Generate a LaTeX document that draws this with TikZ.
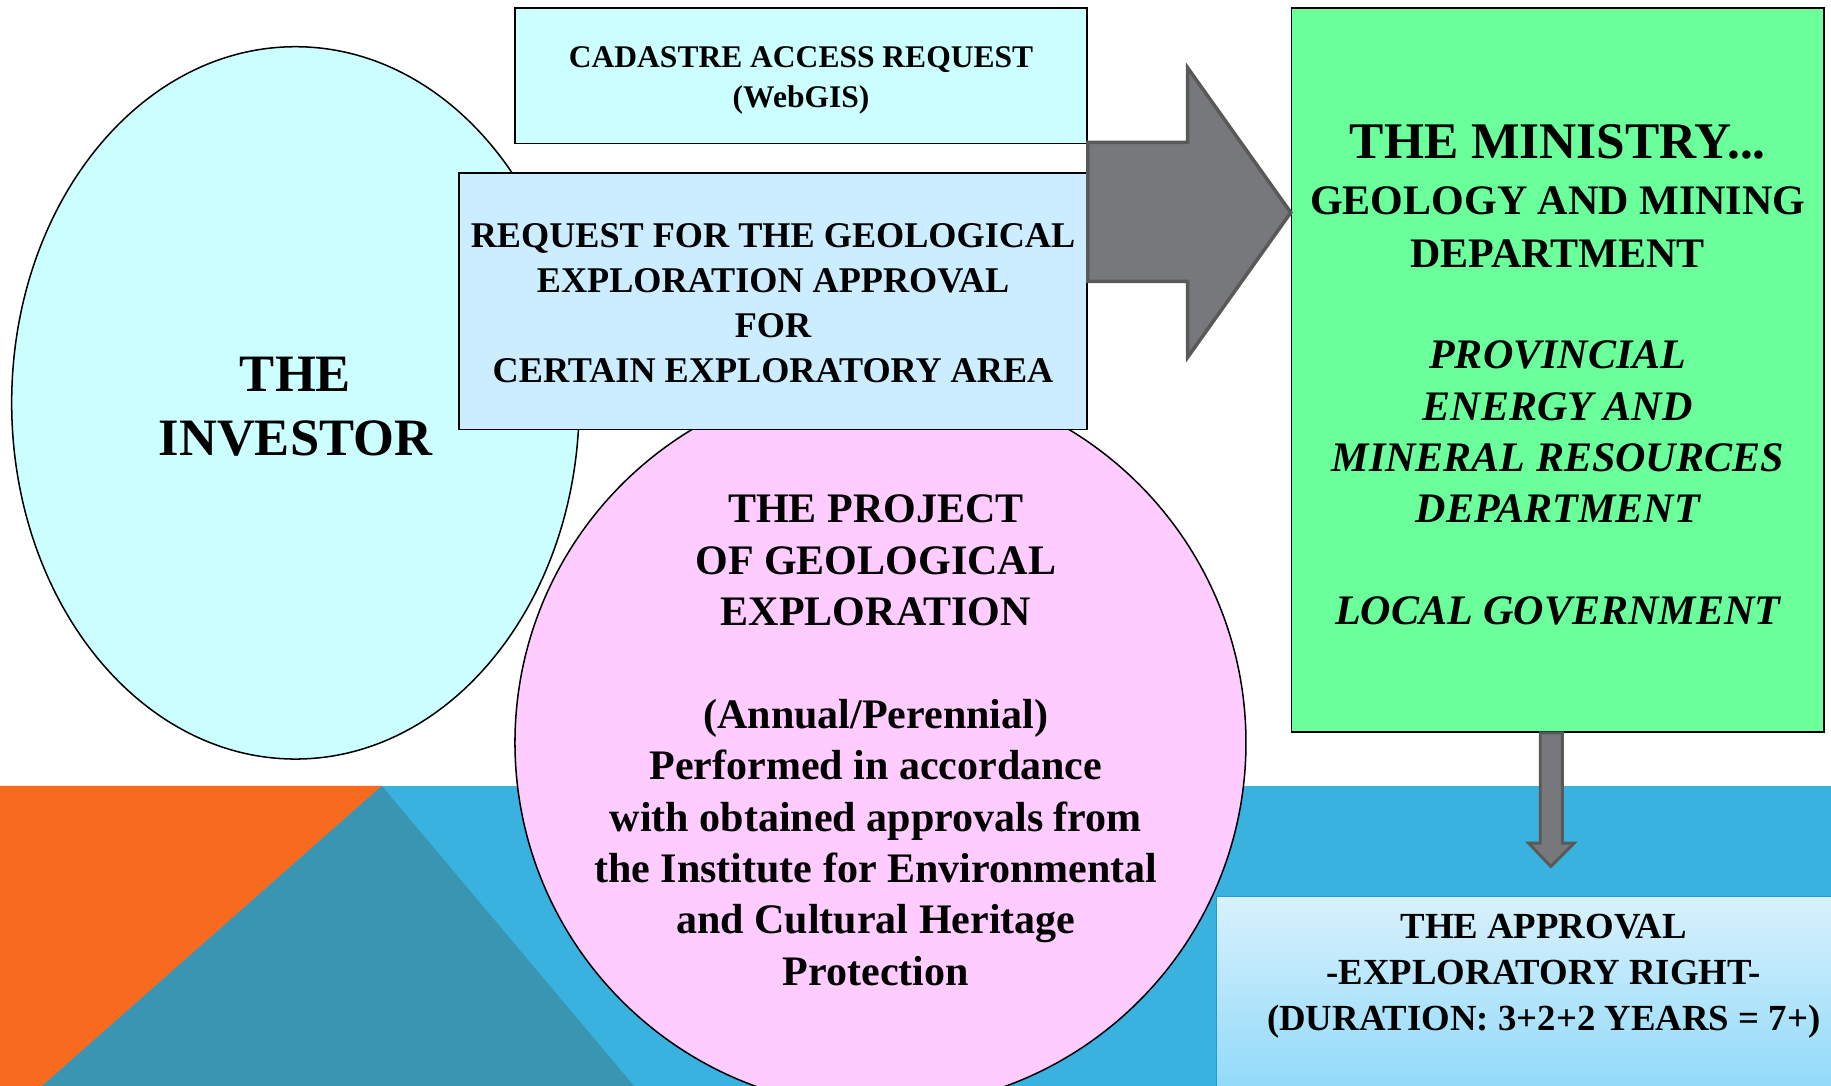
\documentclass[tikz,border=0pt]{standalone}
\usepackage{fontspec}
\setmainfont{Liberation Serif}
\usetikzlibrary{shapes.geometric}
\definecolor{bandblue}{HTML}{3AB2DF}
\definecolor{bandorange}{HTML}{F86A1E}
\definecolor{bandteal}{HTML}{3A95B3}
\definecolor{cyanfill}{HTML}{CCFFFF}
\definecolor{reqfill}{HTML}{CCECFF}
\definecolor{pinkfill}{HTML}{FFCCFF}
\definecolor{greenfill}{HTML}{6BFF9B}
\definecolor{arrowfill}{HTML}{77787B}
\definecolor{arrowedge}{HTML}{595959}
\definecolor{apptop}{HTML}{D8F1FC}
\definecolor{appbot}{HTML}{8ED9F9}
\definecolor{appedge}{HTML}{1E9CD3}
\tikzset{
  box/.style={rectangle, draw=black, line width=1.3pt, inner sep=0pt},
  label text/.style={align=center, inner sep=0pt},
  blockarrow/.style={fill=arrowfill, draw=arrowedge, line width=3pt, line join=miter},
}
\begin{document}
\begin{tikzpicture}[x=1pt,y=-1pt]
\useasboundingbox (0,0) rectangle (1568,930);
\fill[white] (0,0) rectangle (1568,930);
% background band
\fill[bandblue] (0,673) rectangle (1568,930);
\fill[bandorange] (0,673) -- (327,673) -- (36,930) -- (0,930) -- cycle;
\fill[bandteal] (327,673) -- (543,930) -- (36,930) -- cycle;

% investor
\node[ellipse, draw=black, line width=1.3pt, fill=cyanfill, minimum width=486pt, minimum height=610pt, inner sep=0pt] (inv) at (253,345) {};
\node[label text, font=\fontsize{45}{55}\selectfont\bfseries] (invt) at (253,348) {THE\\INVESTOR};

% cadastre
\node[box, fill=cyanfill, minimum width=490pt, minimum height=116pt] (cad) at (686,65) {};
\node[label text, font=\fontsize{27}{34}\selectfont\bfseries] (cadt) at (686,69) {CADASTRE ACCESS REQUEST\\(WebGIS)};

% project circle
\node[circle, draw=black, line width=1.3pt, fill=pinkfill, minimum size=626pt, inner sep=0pt] (proj) at (754,636) {};
\node[label text, font=\fontsize{36}{44}\selectfont\bfseries] (projt) at (750,634)
  {THE PROJECT\\OF GEOLOGICAL\\EXPLORATION\\[44pt](Annual/Perennial)\\Performed in accordance\\with obtained approvals from\\the Institute for Environmental\\and Cultural Heritage\\Protection};

% request
\node[box, fill=reqfill, minimum width=538pt, minimum height=220pt] (req) at (662,258) {};
\node[label text, font=\fontsize{31}{38.5}\selectfont\bfseries] (reqt) at (662,260)
  {REQUEST FOR THE GEOLOGICAL\\EXPLORATION APPROVAL\\FOR\\CERTAIN EXPLORATORY AREA};

% ministry
\node[box, fill=greenfill, minimum width=456pt, minimum height=620pt] (min) at (1334,317) {};
\node[label text, font=\fontsize{36}{44}\selectfont\bfseries] (mint) at (1334,321)
  {{\fontsize{44}{44}\selectfont THE MINISTRY...}\\[4pt]GEOLOGY AND MINING\\[1pt]DEPARTMENT\\[43pt]
   \itshape PROVINCIAL\\\itshape ENERGY AND\\\itshape MINERAL RESOURCES\\\itshape DEPARTMENT\\[43pt]\itshape LOCAL GOVERNMENT};

% approval
\node[rectangle, draw=appedge, line width=1.5pt, top color=apptop, bottom color=appbot, minimum width=545pt, minimum height=172pt, inner sep=0pt, anchor=north west] (app) at (1041,767) {};
\node[label text, font=\fontsize{31.5}{39}\selectfont\bfseries] (appt) at (1322,836)
  {THE APPROVAL\\-EXPLORATORY RIGHT-\\(DURATION: 3+2+2 YEARS = 7+)};

% big arrow request -> ministry
\draw[blockarrow] (req.east |- 0,122) -- (1017,122) -- (1017,58) -- (min.west |- 0,182) -- (1017,306) -- (1017,241) -- (req.east |- 0,241) -- cycle;

% small arrow ministry -> approval
\draw[blockarrow, line width=2.5pt] (min.south -| 1319,0) -- (min.south -| 1338,0) -- (1338,722) -- (1348,722) -- (1328,742) -- (1309,722) -- (1319,722) -- cycle;
\end{tikzpicture}
\end{document}
